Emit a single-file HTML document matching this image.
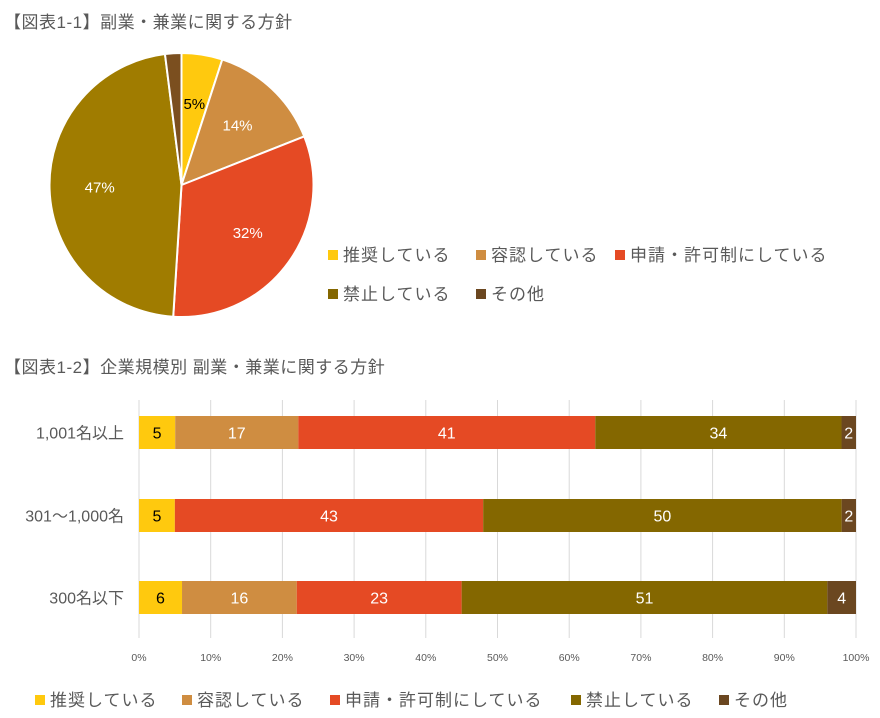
<!DOCTYPE html>
<html><head><meta charset="utf-8">
<style>
body{margin:0;background:#fff;}
svg{display:block;font-family:"Liberation Sans","Noto Sans CJK JP",sans-serif;}
</style></head>
<body>
<svg id="chart" width="880" height="718" xmlns="http://www.w3.org/2000/svg">
<text x="4" y="28" font-size="17" fill="#595959" letter-spacing="0.5">【図表1-1】副業・兼業に関する方針</text>
<text x="4" y="373" font-size="17" fill="#595959" letter-spacing="0.5">【図表1-2】企業規模別 副業・兼業に関する方針</text>
<g id="pie"></g>
<g id="pieLegend"></g>
<g id="bars"></g>
<g id="barLegend"></g>
</svg>
<script>
const pieLabels = ["推奨している","容認している","申請・許可制にしている","禁止している","その他"];
const pieValues = [5,14,32,47,2];
const barCategories = ["1,001名以上","301～1,000名","300名以下"];
const barSeriesNames = ["推奨している","容認している","申請・許可制にしている","禁止している","その他"];
const barRow1 = [5,17,41,34,2];
const barRow2 = [5,0,43,50,2];
const barRow3 = [6,16,23,51,4];
const xTicks = ["0%","10%","20%","30%","40%","50%","60%","70%","80%","90%","100%"];

const NS="http://www.w3.org/2000/svg";
function mk(tag,attrs,parent){const e=document.createElementNS(NS,tag);for(const k in attrs)e.setAttribute(k,attrs[k]);parent.appendChild(e);return e;}
const pieColors=["#FFC90E","#CF8D41","#E54A24","#A07C00","#7B4F1F"];
const barColors=["#FFC90E","#CF8D41","#E54A24","#846700","#6B4720"];
const txtOn=["#000","#fff","#fff","#fff","#fff"];

// Pie
const pie=document.getElementById('pie');
const cx=181.5,cy=185,r=132;
const total=pieValues.reduce((a,b)=>a+b,0);
let acc=0;
pieValues.forEach((v,i)=>{
  const a0=acc/total*2*Math.PI; acc+=v; const a1=acc/total*2*Math.PI;
  const x0=cx+r*Math.sin(a0),y0=cy-r*Math.cos(a0),x1=cx+r*Math.sin(a1),y1=cy-r*Math.cos(a1);
  const large=(a1-a0)>Math.PI?1:0;
  const p=mk('path',{d:`M${cx},${cy}L${x0},${y0}A${r},${r} 0 ${large} 1 ${x1},${y1}Z`,fill:pieColors[i],stroke:"#fff","stroke-width":2},pie);
  
  
  if(v>=5){
    const am=(a0+a1)/2, lr=r*0.62;
    const t=mk('text',{x:cx+lr*Math.sin(am),y:cy-lr*Math.cos(am)+5,"font-size":15,fill:txtOn[i],"text-anchor":"middle"},pie);
    t.textContent=v+"%";
    
    
  }
});
// pie legend
const pl=document.getElementById('pieLegend');
const plPos=[[328,255],[476,255],[615,255],[328,294],[476,294]];
pieLabels.forEach((l,i)=>{
  const [x,y]=plPos[i];
  const s=mk('rect',{x:x,y:y-5,width:10,height:10,fill:barColors[i]},pl);
  
  
  const t=mk('text',{x:x+15,y:y+6,"font-size":17,fill:"#595959","letter-spacing":1},pl);
  t.textContent=l;
  
  
});

// Bars
const bars=document.getElementById('bars');
const X0=139,X1=856;
const xs=p=>X0+(X1-X0)*p/100;
xTicks.forEach((lab,i)=>{
  const x=xs(i*10);
  const g=mk('line',{x1:x,x2:x,y1:400,y2:638,stroke:"#d9d9d9","stroke-width":1},bars);
  
  
  const t=mk('text',{x:x,y:661,"font-size":10.5,fill:"#595959","text-anchor":"middle"},bars);
  t.textContent=lab;
  
  
});
const rows=[barRow1,barRow2,barRow3];
const rowY=[416,499,581], bh=33;
rows.forEach((row,ri)=>{
  const sum=row.reduce((a,b)=>a+b,0);
  const c=mk('text',{x:124,y:rowY[ri]+bh/2+6,"font-size":16,fill:"#595959","text-anchor":"end"},bars);
  c.textContent=barCategories[ri];
  
  
  let a=0;
  row.forEach((v,si)=>{
    if(v<=0)return;
    const xa=xs(a/sum*100); a+=v; const xb=xs(a/sum*100);
    const r=mk('rect',{x:xa,y:rowY[ri],width:xb-xa,height:bh,fill:barColors[si]},bars);
    
    
    const t=mk('text',{x:(xa+xb)/2,y:rowY[ri]+bh/2+6,"font-size":16,fill:txtOn[si],"text-anchor":"middle"},bars);
    t.textContent=v;
    
    
  });
});
// bar legend
const bl=document.getElementById('barLegend');
const blX=[35,182,330,571,719];
barSeriesNames.forEach((l,i)=>{
  const x=blX[i],y=700;
  const s=mk('rect',{x:x,y:y-5,width:10,height:10,fill:barColors[i]},bl);
  
  
  const t=mk('text',{x:x+15,y:y+6,"font-size":17,fill:"#595959","letter-spacing":1},bl);
  t.textContent=l;
  
  
});
</script>
</body></html>
